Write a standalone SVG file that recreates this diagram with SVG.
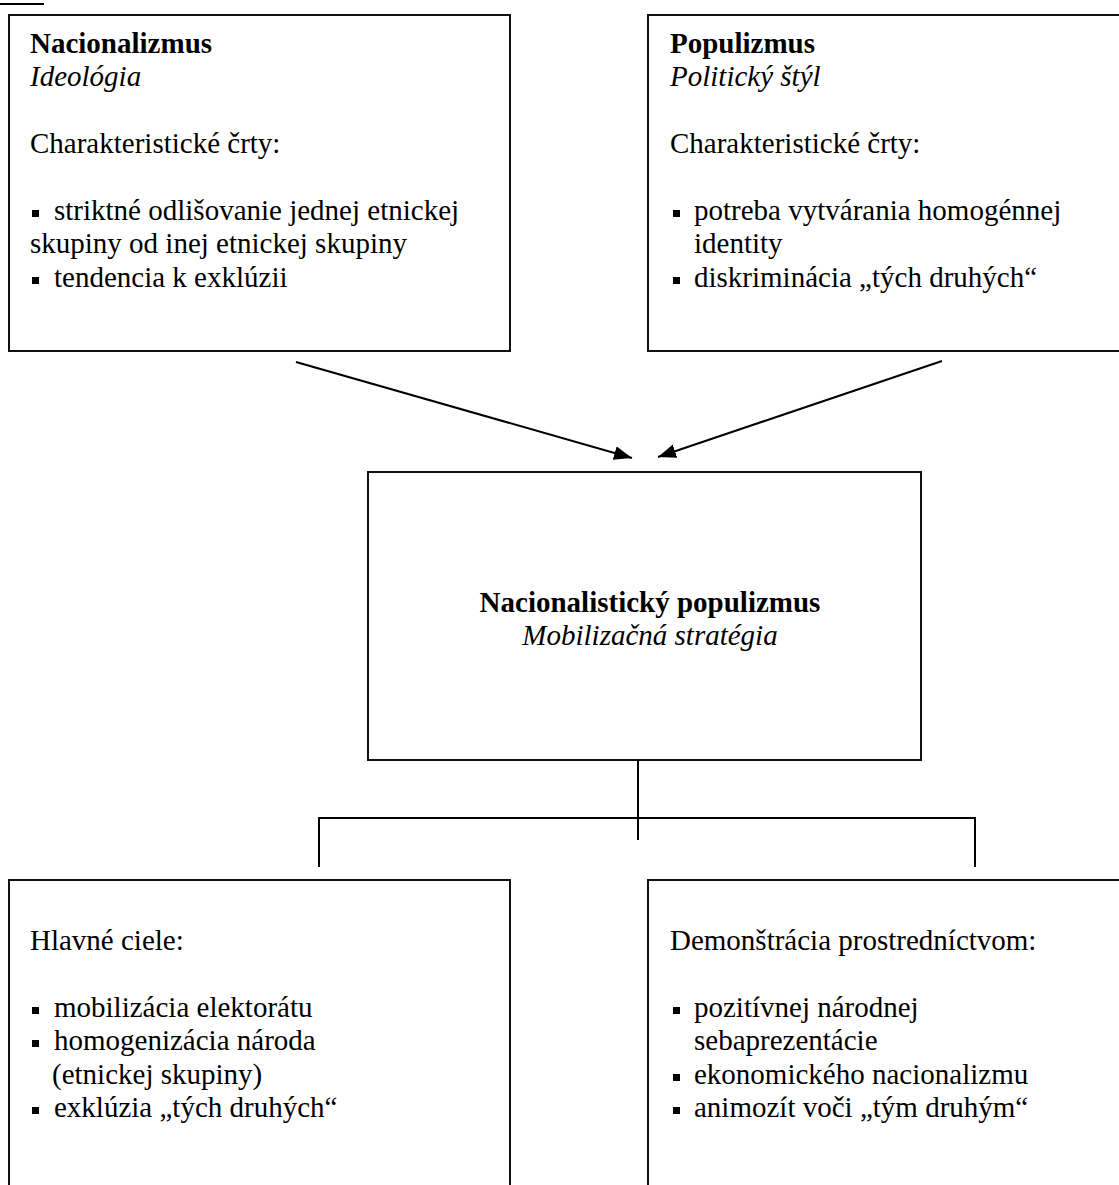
<svg xmlns="http://www.w3.org/2000/svg" width="1119" height="1185" viewBox="0 0 1119 1185" font-family="'Liberation Serif', 'Times New Roman', Tinos, 'DejaVu Serif', serif">
<style>
  .box { fill: #ffffff; stroke: #111111; stroke-width: 2; }
  .t { font-family: 'Liberation Serif', 'Times New Roman', Tinos, 'DejaVu Serif', serif; font-size: 29px; fill: #000000; }
  .b { font-weight: bold; }
  .i { font-style: italic; }
  .c { text-anchor: middle; }
  .bul { fill: #000000; }
  .ln { stroke: #000000; stroke-width: 2; fill: none; }
</style>
<defs>
  <marker id="ah" markerUnits="userSpaceOnUse" markerWidth="20" markerHeight="16" refX="18" refY="7" orient="auto">
    <path d="M0,0 L18,7 L0,14 Z" fill="#000000"/>
  </marker>
</defs>
<rect x="0" y="0" width="1119" height="1185" fill="#ffffff"/>
<line x1="0" y1="4" x2="44" y2="4" class="ln"/>

<g id="nacionalizmus">
  <rect class="box" x="9" y="15" width="501" height="336"/>
  <text class="t b" x="30" y="53">Nacionalizmus</text>
  <text class="t i" x="30" y="86">Ideológia</text>
  <text class="t" x="30" y="153">Charakteristické črty:</text>
  <rect class="bul" x="32" y="210" width="7" height="7"/>
  <text class="t" x="54" y="220">striktné odlišovanie jednej etnickej</text>
  <text class="t" x="30" y="253">skupiny od inej etnickej skupiny</text>
  <rect class="bul" x="32" y="277" width="7" height="7"/>
  <text class="t" x="54" y="287">tendencia k exklúzii</text>
</g>

<g id="populizmus">
  <rect class="box" x="648" y="15" width="480" height="336"/>
  <text class="t b" x="670" y="53">Populizmus</text>
  <text class="t i" x="670" y="86">Politický štýl</text>
  <text class="t" x="670" y="153">Charakteristické črty:</text>
  <rect class="bul" x="673" y="210" width="7" height="7"/>
  <text class="t" x="694" y="220">potreba vytvárania homogénnej</text>
  <text class="t" x="694" y="253">identity</text>
  <rect class="bul" x="673" y="277" width="7" height="7"/>
  <text class="t" x="694" y="287">diskriminácia „tých druhých“</text>
</g>

<g id="nacionalisticky-populizmus">
  <rect class="box" x="368" y="472" width="553" height="288"/>
  <text class="t b c" x="650" y="612">Nacionalistický populizmus</text>
  <text class="t i c" x="650" y="645">Mobilizačná stratégia</text>
</g>

<g id="hlavne-ciele">
  <rect class="box" x="9" y="880" width="501" height="320"/>
  <text class="t" x="30" y="950">Hlavné ciele:</text>
  <rect class="bul" x="32" y="1007" width="7" height="7"/>
  <text class="t" x="54" y="1017">mobilizácia elektorátu</text>
  <rect class="bul" x="32" y="1040" width="7" height="7"/>
  <text class="t" x="54" y="1050">homogenizácia národa</text>
  <text class="t" x="52" y="1084">(etnickej skupiny)</text>
  <rect class="bul" x="32" y="1107" width="7" height="7"/>
  <text class="t" x="54" y="1117">exklúzia „tých druhých“</text>
</g>

<g id="demonstracia">
  <rect class="box" x="648" y="880" width="480" height="320"/>
  <text class="t" x="670" y="950">Demonštrácia prostredníctvom:</text>
  <rect class="bul" x="673" y="1007" width="7" height="7"/>
  <text class="t" x="694" y="1017">pozitívnej národnej</text>
  <text class="t" x="694" y="1050">sebaprezentácie</text>
  <rect class="bul" x="673" y="1074" width="7" height="7"/>
  <text class="t" x="694" y="1084">ekonomického nacionalizmu</text>
  <rect class="bul" x="673" y="1107" width="7" height="7"/>
  <text class="t" x="694" y="1117">animozít voči „tým druhým“</text>
</g>

<g id="connectors">
  <line class="ln" x1="296" y1="362" x2="632" y2="458" marker-end="url(#ah)"/>
  <line class="ln" x1="942" y1="361" x2="658" y2="457" marker-end="url(#ah)"/>
  <line class="ln" x1="638" y1="760" x2="638" y2="840"/>
  <path class="ln" d="M319,867 L319,818 L975,818 L975,867"/>
</g>
</svg>
